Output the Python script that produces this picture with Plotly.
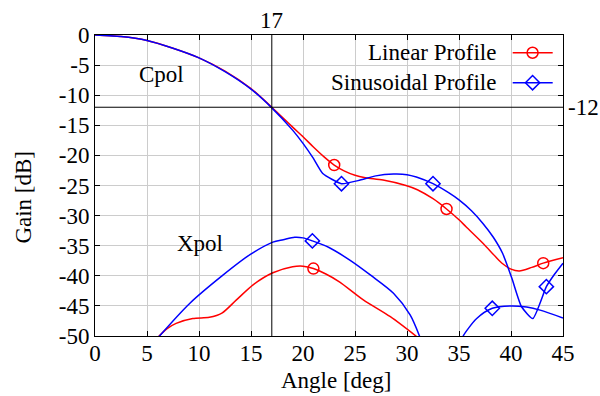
import plotly.graph_objects as go

# ---------------- data ----------------
lin_cpol_x = [0, 2.5, 5, 7.5, 10, 12.5, 15, 17, 19, 20, 21, 22, 23, 24, 25, 26, 27.7, 29.9, 31, 32.5,
              33.8, 35, 35.7, 37.3, 38.5, 39.2, 40, 40.8, 42, 43.1, 45]
lin_cpol_y = [0, -0.25, -0.9, -2.2, -3.8, -6.0, -8.9, -12.0, -15.3, -16.9, -18.6, -20.2, -21.6, -22.6,
              -23.3, -23.7, -24.1, -25.0, -25.7, -27.2, -28.9, -30.7, -31.9, -34.6, -36.8, -38.0,
              -38.9, -39.2, -38.6, -37.9, -37.0]

sin_cpol_x = [0, 2.5, 5, 7.5, 10, 12.5, 15, 17, 19, 20, 21, 21.9, 23.7, 25.5, 27, 28.7, 30, 30.9, 32.5,
              34, 35, 36.2, 37.3, 38.3, 39.2, 40.1, 41.0, 42.1, 43.4, 44.2, 45]
sin_cpol_y = [0, -0.25, -0.9, -2.2, -3.8, -6.1, -9.0, -12.1, -15.8, -18.0, -20.5, -23.0, -24.7, -24.1,
              -23.4, -23.1, -23.2, -23.6, -24.7, -26.2, -27.4, -29.2, -31.3, -33.6, -36.3, -40.5,
              -45.1, -47.1, -41.8, -39.7, -37.9]

lin_xpol_x = [6.0, 6.9, 7.8, 9.4, 11.0, 12.2, 13.6, 15.2, 17.1, 19.0, 20, 21.0, 22.2, 23.5, 25.8, 28.4, 31.0]
lin_xpol_y = [-50.3, -48.8, -47.9, -47.1, -46.9, -46.2, -44.0, -41.5, -39.5, -38.5, -38.4, -38.8, -39.7,
              -41.0, -44.0, -46.8, -50.2]

sin_xpol_x = [6.1, 9.1, 12.3, 14.9, 17.1, 18.1, 19.2, 20.0, 20.9, 22.5, 24.5, 26.5, 28.7, 30.3, 31.2, 31.3,
              None,
              35.3, 35.4, 36.7, 38.2, 40.0, 41.5, 42.8, 45]
sin_xpol_y = [-50.2, -44.6, -39.9, -36.5, -34.4, -34.0, -33.6, -33.7, -34.2, -35.3, -37.4, -39.9, -42.9,
              -46.5, -50.0, -50.5,
              None,
              -50.5, -50.0, -47.1, -45.4, -45.0, -45.2, -45.7, -47.0]

lin_mark_x = [23.0, 33.8, 43.1, 21.0]
lin_mark_y = [-21.6, -28.9, -37.9, -38.8]
sin_mark_x = [23.7, 32.5, 43.4, 20.9, 38.2]
sin_mark_y = [-24.7, -24.7, -41.8, -34.2, -45.4]

x_ticks = [0, 5, 10, 15, 20, 25, 30, 35, 40, 45]
y_ticks = [0, -5, -10, -15, -20, -25, -30, -35, -40, -45, -50]
ref_angle = 17
ref_level = -12
series_names = ["Linear Profile", "Sinusoidal Profile"]

# ---------------- style ----------------
RED = "#ff0000"
BLUE = "#0000ff"
FONT = "Liberation Serif"
FS = 23
LW = 1.5
MS_C = 11
MS_D = 11

fig = go.Figure()

def line(x, y, color, smooth):
    fig.add_trace(go.Scatter(x=x, y=y, mode="lines",
                             line=dict(color=color, width=LW, shape="spline", smoothing=smooth),
                             showlegend=False, hoverinfo="skip"))

line(lin_cpol_x, lin_cpol_y, RED, 0.8)
line(lin_xpol_x, lin_xpol_y, RED, 0.8)
line(sin_cpol_x, sin_cpol_y, BLUE, 0.5)
line(sin_xpol_x, sin_xpol_y, BLUE, 0.8)

fig.add_trace(go.Scatter(x=lin_mark_x, y=lin_mark_y, mode="markers",
                         marker=dict(symbol="circle-open", size=MS_C, color=RED, line=dict(width=LW)),
                         showlegend=False))
fig.add_trace(go.Scatter(x=sin_mark_x, y=sin_mark_y, mode="markers",
                         marker=dict(symbol="diamond-open", size=MS_D, color=BLUE, line=dict(width=LW)),
                         showlegend=False))

# manual legend (text on the left, key on the right) drawn on an overlay axis in paper units
key_x0, key_x1, key_xm = 0.8925, 0.978, 0.935
key_y = [0.941, 0.8415]
for name, color, sym, ky, ms in [(series_names[0], RED, "circle-open", key_y[0], MS_C),
                                 (series_names[1], BLUE, "diamond-open", key_y[1], MS_D)]:
    fig.add_trace(go.Scatter(x=[key_x0, key_x1], y=[ky, ky], mode="lines", xaxis="x2", yaxis="y2",
                             line=dict(color=color, width=LW), showlegend=False, hoverinfo="skip"))
    fig.add_trace(go.Scatter(x=[key_xm], y=[ky], mode="markers", xaxis="x2", yaxis="y2",
                             marker=dict(symbol=sym, size=ms, color=color, line=dict(width=LW)),
                             showlegend=False, hoverinfo="skip"))
    fig.add_annotation(text=name, xref="paper", yref="paper", x=0.8605, y=ky, xanchor="right",
                       yanchor="middle", showarrow=False, font=dict(family=FONT, size=FS, color="black"))

# reference lines
fig.add_shape(type="line", xref="x", yref="paper", x0=ref_angle, x1=ref_angle, y0=0, y1=1,
              line=dict(color="black", width=1))
fig.add_shape(type="line", xref="paper", yref="y", x0=0, x1=1, y0=ref_level, y1=ref_level,
              line=dict(color="black", width=1))
fig.add_annotation(text=str(ref_angle), x=ref_angle, xref="x", y=1, yref="paper",
                   xanchor="center", yanchor="bottom",
                   showarrow=False, font=dict(family=FONT, size=FS, color="black"))
fig.add_annotation(text=str(ref_level), x=1, xref="paper", y=ref_level, yref="y",
                   xanchor="left", yanchor="middle",
                   xshift=3, showarrow=False, font=dict(family=FONT, size=FS, color="black"))

# curve labels
fig.add_annotation(text="Cpol", x=6.4, y=-6.6, xanchor="center", yanchor="middle",
                   showarrow=False, font=dict(family=FONT, size=FS, color="black"))
fig.add_annotation(text="Xpol", x=10.1, y=-34.6, xanchor="center", yanchor="middle",
                   showarrow=False, font=dict(family=FONT, size=FS, color="black"))

# axis titles
fig.add_annotation(text="Angle [deg]", xref="paper", yref="paper", x=0.5165, y=-0.149,
                   xanchor="center", yanchor="middle",
                   showarrow=False, font=dict(family=FONT, size=FS, color="black"))
fig.add_annotation(text="Gain [dB]", xref="paper", yref="paper", x=-0.152, y=0.4627, textangle=-90,
                   xanchor="center", yanchor="middle",
                   showarrow=False, font=dict(family=FONT, size=FS, color="black"))

axis_common = dict(showline=True, linecolor="black", linewidth=1, mirror="ticks", ticks="inside",
                   ticklen=5, tickcolor="black", showgrid=True, gridcolor="#cccccc", gridwidth=1,
                   zeroline=False, tickfont=dict(family=FONT, size=FS, color="black"))

fig.update_layout(
    width=600, height=396,
    margin=dict(l=95, r=37, t=35, b=60),
    paper_bgcolor="white", plot_bgcolor="white",
    font=dict(family=FONT, size=FS, color="black"),
    xaxis=dict(range=[0, 45], tickvals=x_ticks, ticktext=[str(v) for v in x_ticks],
               ticklabelstandoff=-4, **axis_common),
    yaxis=dict(range=[-50, 0], tickvals=y_ticks, ticktext=[str(v) for v in y_ticks], **axis_common),
    xaxis2=dict(overlaying="x", range=[0, 1], visible=False),
    yaxis2=dict(overlaying="y", range=[0, 1], visible=False),
    showlegend=False,
)

fig.write_html("out.html")
